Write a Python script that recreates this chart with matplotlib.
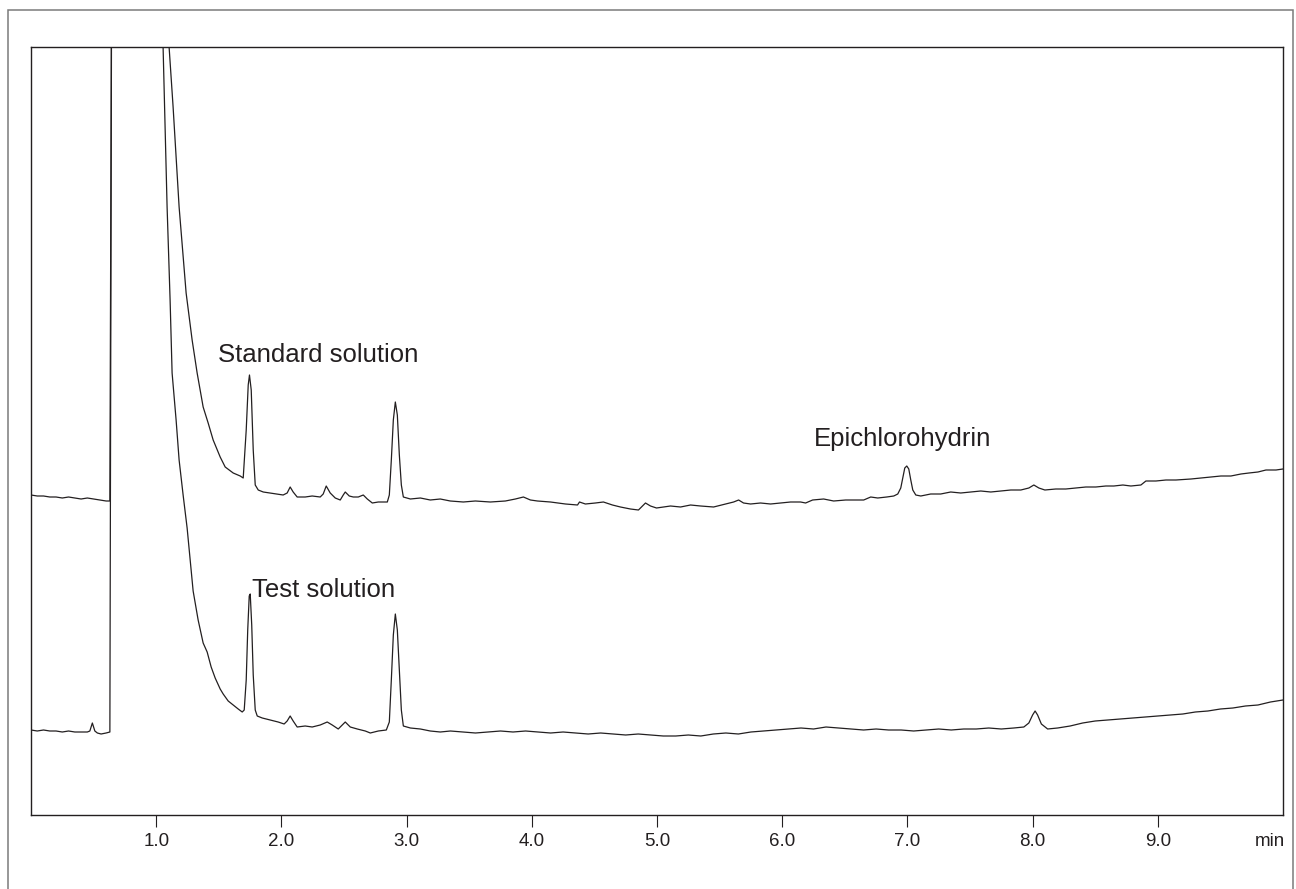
import matplotlib
matplotlib.use("Agg")
import matplotlib.pyplot as plt
from matplotlib.patches import Rectangle

plt.rcParams['font.family'] = ['Liberation Sans', 'DejaVu Sans']

INK = '#231f20'

# ---------------- data (time in min, detector signal in arbitrary units) ----------------
std_time = [0.00, 0.05, 0.10, 0.15, 0.20, 0.25, 0.30, 0.35, 0.40, 0.45, 0.50, 0.55, 0.60, 0.63,
            0.645, 0.80, 1.00, 1.08,
            1.103, 1.135, 1.183, 1.239, 1.287, 1.327, 1.375, 1.415, 1.455, 1.511, 1.551, 1.615,
            1.671, 1.695, 1.719, 1.735, 1.745, 1.759, 1.775, 1.791, 1.815,
            1.855, 1.910, 1.966, 2.014, 2.046, 2.070, 2.094, 2.126, 2.190, 2.246, 2.310, 2.334,
            2.358, 2.390, 2.430, 2.470, 2.494, 2.510, 2.542, 2.574, 2.614, 2.654, 2.686, 2.726,
            2.774, 2.846, 2.862, 2.878, 2.894, 2.910, 2.926, 2.942, 2.958, 2.974,
            3.030, 3.110, 3.189, 3.269, 3.349, 3.453, 3.549, 3.669, 3.789, 3.869, 3.933, 3.989,
            4.045, 4.149, 4.269, 4.365, 4.381, 4.428, 4.508, 4.572, 4.644, 4.708, 4.788, 4.852,
            4.884, 4.908, 4.948, 4.996, 5.052, 5.108, 5.188, 5.268, 5.348, 5.452, 5.548, 5.612,
            5.652, 5.691, 5.747, 5.827, 5.907, 5.987, 6.067, 6.147, 6.187, 6.243, 6.331, 6.411,
            6.507, 6.587, 6.651, 6.707, 6.763, 6.835, 6.891, 6.923,
            6.947, 6.963, 6.979, 6.995, 7.011, 7.027, 7.043, 7.067,
            7.107, 7.186, 7.266, 7.346, 7.426, 7.506, 7.586, 7.666, 7.746, 7.826, 7.906, 7.970,
            8.010, 8.050, 8.098, 8.185, 8.265, 8.345, 8.425, 8.505, 8.585, 8.649, 8.721, 8.785,
            8.865, 8.905, 8.985, 9.065, 9.145, 9.265, 9.345, 9.417, 9.504, 9.584, 9.664, 9.728,
            9.800, 9.864, 9.944, 10.00]
std_signal = [320, 319, 319, 318, 318, 317, 318, 317, 316, 317, 316, 315, 314, 314,
              900, 1300, 1300, 900,
              768, 708, 608, 522, 475, 442, 408, 392, 375, 358, 348, 342,
              339, 337, 385, 430, 440, 425, 365, 330, 325,
              323, 322, 321, 320, 322, 328, 323, 318, 318, 319, 318, 321,
              329, 322, 317, 315, 320, 323, 319, 318, 318, 320, 316, 312,
              313, 313, 320, 355, 395, 413, 400, 360, 330, 318,
              316, 317, 315, 316, 314, 313, 314, 313, 314, 316, 318, 315,
              314, 313, 311, 310, 313, 311, 312, 313, 310, 308, 306, 305,
              309, 312, 309, 307, 308, 309, 308, 310, 309, 308, 311, 313,
              315, 312, 311, 312, 311, 312, 313, 313, 312, 315, 316, 314,
              315, 315, 315, 318, 317, 318, 319, 321,
              327, 337, 347, 349, 346, 335, 325, 320,
              319, 321, 321, 323, 322, 323, 324, 323, 324, 325, 325, 327,
              330, 327, 325, 326, 326, 327, 328, 328, 329, 329, 330, 329,
              330, 334, 334, 335, 335, 336, 337, 338, 339, 339, 341, 342,
              343, 345, 345, 346]

test_time = [0.00, 0.05, 0.10, 0.15, 0.20, 0.25, 0.30, 0.35, 0.40, 0.45, 0.47, 0.49, 0.51, 0.53,
             0.56, 0.60, 0.63,
             0.645, 0.80, 1.00, 1.04,
             1.055, 1.071, 1.087, 1.111, 1.127, 1.159, 1.183, 1.215, 1.247, 1.271, 1.295, 1.335,
             1.375, 1.407, 1.439, 1.471, 1.511, 1.535, 1.575, 1.615, 1.655, 1.687, 1.703,
             1.719, 1.731, 1.743, 1.751, 1.763, 1.775, 1.791, 1.807,
             1.847, 1.910, 1.974, 2.022, 2.046, 2.070, 2.094, 2.126, 2.190, 2.246, 2.310, 2.366,
             2.406, 2.454, 2.510, 2.550, 2.606, 2.670, 2.710, 2.774, 2.838,
             2.862, 2.878, 2.894, 2.910, 2.926, 2.942, 2.958, 2.974,
             3.030, 3.110, 3.189, 3.269, 3.35, 3.45, 3.55, 3.65, 3.75, 3.85, 3.95, 4.05, 4.15,
             4.25, 4.35, 4.45, 4.55, 4.65, 4.75, 4.85, 4.95, 5.05, 5.15, 5.25, 5.35, 5.45, 5.55,
             5.65, 5.75, 5.85, 5.95, 6.05, 6.15, 6.25, 6.35, 6.45, 6.55, 6.65, 6.75, 6.85, 6.95,
             7.05, 7.15, 7.25, 7.35, 7.45, 7.55, 7.65, 7.75, 7.85, 7.93, 7.97, 8.00, 8.02, 8.04,
             8.07, 8.12, 8.20, 8.30, 8.40, 8.50, 8.60, 8.70, 8.80, 8.90, 9.00, 9.10, 9.20, 9.30,
             9.40, 9.50, 9.60, 9.70, 9.80, 9.90, 10.00]
test_signal = [85, 84, 85, 84, 84, 83, 84, 83, 83, 83, 84, 92, 84, 82,
               81, 82, 83,
               900, 1300, 1300, 900,
               768, 688, 608, 515, 442, 395, 355, 320, 287, 255, 224, 195,
               172, 163, 148, 137, 126, 121, 114, 110, 106, 103, 105,
               135, 185, 219, 221, 190, 140, 105, 99,
               97, 95, 93, 91, 94, 99, 94, 88, 89, 88, 90, 93,
               90, 86, 93, 88, 86, 84, 82, 84, 85,
               93, 135, 180, 201, 185, 145, 105, 89,
               87, 86, 84, 83, 84, 83, 82, 83, 84, 83, 84, 83, 82,
               83, 82, 81, 82, 81, 80, 81, 80, 79, 79, 80, 79, 81, 82,
               81, 83, 84, 85, 86, 87, 86, 88, 87, 86, 85, 86, 85, 85,
               84, 85, 86, 85, 86, 86, 87, 86, 87, 88, 92, 100, 104, 100,
               91, 86, 87, 89, 92, 94, 95, 96, 97, 98, 99, 100, 101, 103,
               104, 106, 107, 109, 110, 113, 115]

tick_values = [1, 2, 3, 4, 5, 6, 7, 8, 9]
tick_labels = ['1.0', '2.0', '3.0', '4.0', '5.0', '6.0', '7.0', '8.0', '9.0']

# ---------------- figure ----------------
W, H = 1296, 889
fig = plt.figure(figsize=(W / 100, H / 100), dpi=100)
ax = fig.add_axes([31 / W, 1 - 815 / H, (1283 - 31) / W, (815 - 47) / H])

# outer frame
fig.patches.append(Rectangle((8 / W, -0.05), (1293 - 8) / W, (H - 10) / H + 0.05,
                             transform=fig.transFigure, fill=False,
                             edgecolor='#7a7a7a', linewidth=1.1))

ax.plot(std_time, std_signal, color=INK, linewidth=0.9, solid_joinstyle='round')
ax.plot(test_time, test_signal, color=INK, linewidth=0.9, solid_joinstyle='round')

ax.set_xlim(0, 10)
ax.set_ylim(0, 768)
ax.set_yticks([])
ax.set_xticks(tick_values)
ax.set_xticklabels(tick_labels)
ax.tick_params(axis='x', direction='out', length=8.6, width=0.8, color=INK,
               labelsize=13.5, labelcolor=INK, pad=4.5)
for sp in ax.spines.values():
    sp.set_color(INK)
    sp.set_linewidth(1.0)

ax.annotate('min', xy=(10, 0), xycoords=('data', 'axes fraction'),
            xytext=(1.5, -(8.6 + 4.5)), textcoords='offset points',
            ha='right', va='top', fontsize=13.5, color=INK)

ax.text(1.495, 453, 'Standard solution', fontsize=18.5, color=INK, ha='left', va='baseline')
ax.text(1.767, 218, 'Test solution', fontsize=18.5, color=INK, ha='left', va='baseline')
ax.text(6.25, 369, 'Epichlorohydrin', fontsize=18.5, color=INK, ha='left', va='baseline')

fig.savefig('out.png', dpi=100)
